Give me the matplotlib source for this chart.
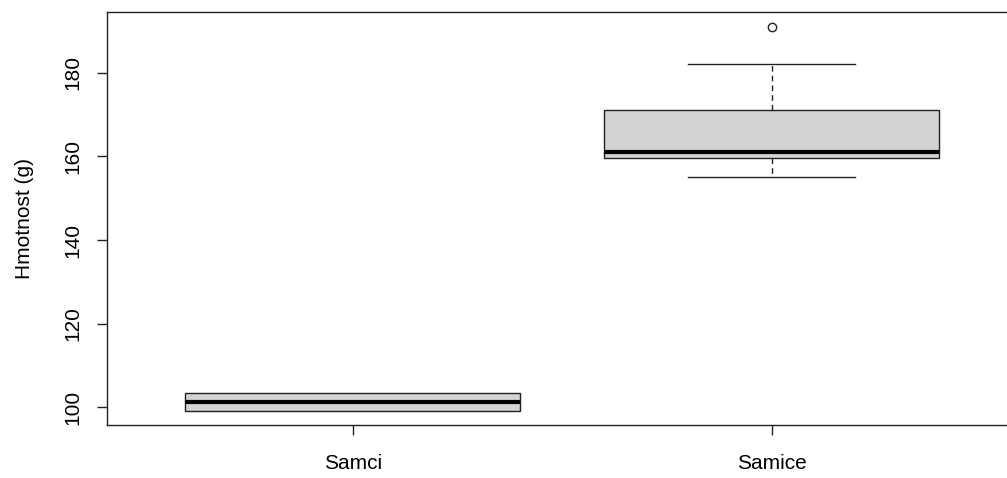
import matplotlib
matplotlib.use('Agg')
import matplotlib.pyplot as plt

plt.rcParams['font.family'] = ['Liberation Sans', 'DejaVu Sans']

# data
groups = ['Samci', 'Samice']
q1 = [99.0, 159.7]
median = [101.2, 161.0]
q3 = [103.3, 171.1]
whislo = [99.0, 155.2]
whishi = [103.3, 182.1]
fliers = [[], [190.9]]

stats = []
for i in range(len(groups)):
    stats.append({'label': groups[i], 'q1': q1[i], 'med': median[i], 'q3': q3[i],
                  'whislo': whislo[i], 'whishi': whishi[i], 'fliers': fliers[i]})

fig = plt.figure(figsize=(10.07, 4.78), dpi=100)
# right edge of the box is cut off in the original
ax = fig.add_axes([107/1007, 53/478, 916/1007, 413/478])

bp = ax.bxp(stats, positions=[1, 2], widths=0.8, patch_artist=True,
            boxprops=dict(facecolor='#d3d3d3', edgecolor='#222222', linewidth=1.0),
            medianprops=dict(color='black', linewidth=3),
            whiskerprops=dict(color='#222222', linewidth=1.0, linestyle=(0, (4, 3))),
            capprops=dict(color='#222222', linewidth=1.0),
            capwidths=0.4,
            flierprops=dict(marker='o', markerfacecolor='none', markeredgecolor='#222222',
                            markersize=6, markeredgewidth=1.0))
for b in bp['boxes']:
    b.set_zorder(3)
for m in bp['medians']:
    m.set_zorder(4)
# caps that sit on the box edge are hidden by the box
for i in range(len(groups)):
    if whislo[i] == q1[i]:
        bp['caps'][2*i].set_visible(False)
    if whishi[i] == q3[i]:
        bp['caps'][2*i+1].set_visible(False)

ax.set_xlim(0.413, 2.6)
ax.set_ylim(95.7, 194.6)
ax.set_yticks([100, 120, 140, 160, 180])
ax.set_yticklabels(['100', '120', '140', '160', '180'], rotation=90, va='center')
ax.set_xticks([1, 2])
ax.set_xticklabels(groups)
ax.tick_params(labelsize=15, length=7, width=1.0, color='#222222')
ax.tick_params(axis='y', pad=11)
ax.tick_params(axis='x', pad=14)
ax.set_ylabel('Hmotnost (g)', fontsize=15, labelpad=21)

for s in ax.spines.values():
    s.set_color('#222222')
    s.set_linewidth(1.0)

plt.savefig('out.png', dpi=100)
